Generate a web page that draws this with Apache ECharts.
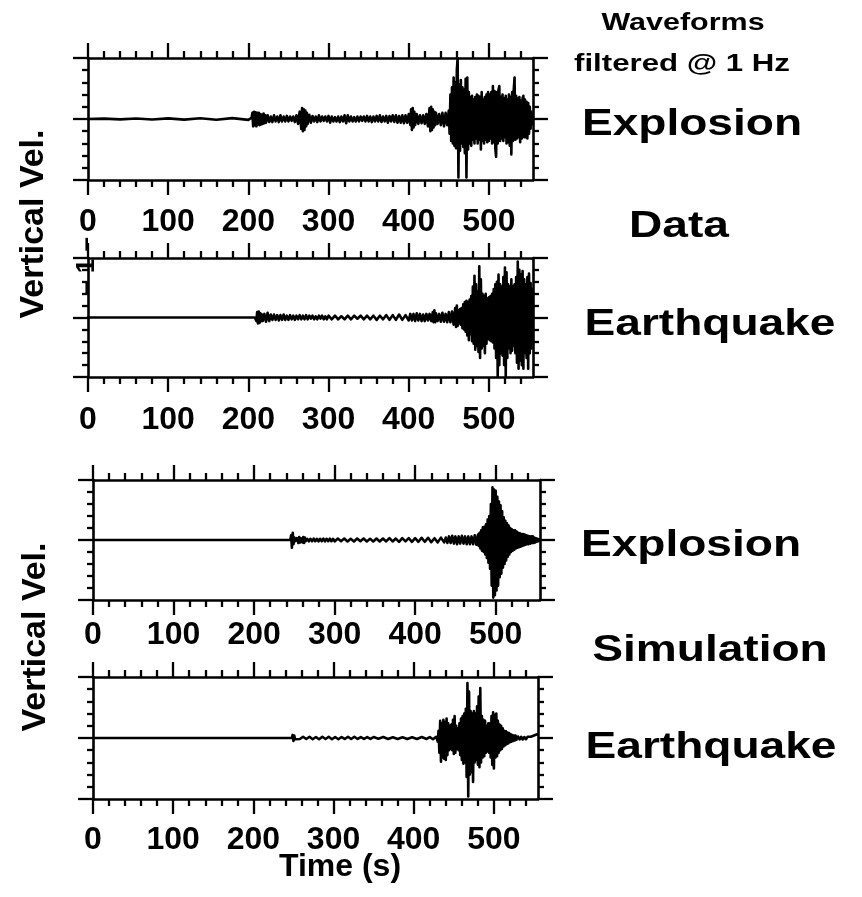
<!DOCTYPE html>
<html><head><meta charset="utf-8">
<script src="https://cdn.jsdelivr.net/npm/echarts@6/dist/echarts.min.js"></script>
<style>html,body{margin:0;padding:0;background:#fff}#c{width:862px;height:897px}</style>
</head><body><div id="c"></div>
<script>
// ---------- data ----------
const timeMin = 0, timeMax = 555;
const velMin = -5, velMax = 5;
const xMajorTicks = [0, 100, 200, 300, 400, 500];
const xMinorTicks = [20, 40, 60, 80, 120, 140, 160, 180, 220, 240, 260, 280, 320, 340, 360, 380, 420, 440, 460, 480, 520, 540];
const yMajorTicks = [-5, 0, 5];
const yMinorTicks = [-4, -3, -2, -1, 1, 2, 3, 4];

const explosionData = [[0,0],[20,0.03],[40,-0.03],[60,0.04],[80,-0.04],[100,0.05],[120,-0.05],[140,0.06],[160,-0.06],[180,0.07],[200,-0.07],
[204,0.1],[205,0.5],[206,-0.6],[207,0.6],[208,-0.5],[209,0.55],[210,-0.6],[211,0.5],[212,-0.45],[213,0.5],[214,-0.5],[215,0.4],[216,-0.45],[217,0.35],[218,-0.4],[219,0.45],[220,-0.35],[221,0.3],[222,-0.3],[224,0.3],[226,-0.25],[228,0.2],[230,-0.25],[232,0.3],[234,-0.2],[236,0.2],[238,-0.25],[240,0.3],[242,-0.2],[244,0.2],[246,-0.2],[248,0.25],[250,-0.2],[252,0.2],[254,-0.15],[256,0.2],[258,-0.25],[260,0.3],[262,-0.4],[264,0.6],[266,-0.8],[267,0.9],[268,-1.0],[269,0.8],[270,-0.9],[271,0.7],[272,-0.6],[273,0.5],[274,-0.4],[276,0.35],[278,-0.3],[280,0.25],[282,-0.2],[284,0.2],[286,-0.25],[288,0.3],[290,-0.2],[292,0.2],[294,-0.15],[296,0.2],[298,-0.2],[300,0.25],[302,-0.3],[304,0.2],[306,-0.2],[308,0.15],[310,-0.2],[312,0.2],[314,-0.25],[316,0.2],[318,-0.2],[320,0.3],[322,-0.35],[324,0.3],[326,-0.2],[328,0.2],[330,-0.2],[332,0.15],[334,-0.2],[336,0.2],[338,-0.2],[340,0.2],[342,-0.15],[344,0.2],[346,-0.2],[348,0.25],[350,-0.2],[352,0.2],[354,-0.25],[356,0.2],[358,-0.2],[360,0.25],[362,-0.2],[364,0.3],[366,-0.25],[368,0.2],[370,-0.2],[372,0.25],[374,-0.3],[376,0.25],[378,-0.2],[380,0.3],[382,-0.25],[384,0.3],[386,-0.3],[388,0.25],[390,-0.3],[392,0.3],[394,-0.35],[396,0.3],[398,-0.3],[400,0.4],[402,-0.5],[403,0.8],[404,-0.9],[405,0.9],[406,-0.7],[407,0.6],[408,-0.5],[410,0.4],[412,-0.4],[414,0.3],[416,-0.35],[418,0.3],[420,-0.4],[422,0.4],[424,-0.6],[426,0.9],[427,-1.0],[428,1.0],[429,-0.9],[430,0.8],[431,-0.7],[432,0.6],[433,-0.5],[434,0.5],[436,-0.4],[438,0.4],[440,-0.5],[442,0.5],[444,-0.6],[446,0.5],[448,-0.5],
[450,0.7],[451,-1.2],[452,2.0],[453,-1.8],[454,2.6],[455,-2.0],[456,3.4],[457,-2.2],[458,3.0],[459,-2.4],[460,4.0],[461,5.0],[462,-4.8],[463,2.8],[464,-2.6],[465,3.2],[466,-2.0],[467,2.6],[468,-2.3],[469,2.4],[470,-2.8],[471,3.3],[472,-4.8],[473,3.4],[474,-2.5],[475,2.2],[476,-2.0],[477,1.8],[478,-2.2],[479,1.9],[480,-1.7],[481,1.6],[482,-2.0],[483,1.8],[484,-1.6],[485,2.0],[486,-2.0],[487,1.9],[488,-1.7],[489,1.8],[490,-2.5],[491,2.2],[492,-1.8],[493,1.6],[494,-2.0],[495,1.8],[496,-1.7],[497,2.0],[498,-1.9],[499,2.2],[500,-1.8],[501,2.0],[502,-1.6],[503,2.2],[504,-2.0],[505,2.7],[506,-1.9],[507,2.3],[508,-2.4],[509,-3.1],[510,2.2],[511,-2.0],[512,2.4],[513,2.7],[514,-1.8],[515,1.8],[516,-1.6],[517,2.0],[518,-1.8],[519,1.7],[520,-1.5],[521,1.9],[522,-2.0],[523,1.6],[524,-1.9],[525,2.0],[526,-2.2],[527,1.8],[528,-2.9],[529,2.2],[530,-1.8],[531,2.4],[532,3.4],[533,-1.7],[534,1.9],[535,-1.6],[536,1.7],[537,-1.5],[538,1.8],[539,-1.9],[540,1.5],[541,-1.6],[542,1.7],[543,1.9],[544,-1.5],[545,1.6],[546,-1.5],[547,1.4],[548,-1.6],[549,1.3],[550,-1.2],[551,1.0],[552,-0.8],[553,0.6],[554,-0.4]];

const earthquakeData = [[0,0],[100,0],[208,0],[209,0.15],[210,-0.3],[211,0.45],[212,-0.5],[213,0.5],[214,-0.45],[215,0.35],[216,-0.3],[217,0.25],[218,-0.3],[220,0.3],[222,-0.35],[224,0.4],[226,-0.3],[228,0.25],[230,-0.2],[232,0.25],[234,-0.2],[236,0.2],[238,-0.25],[240,0.2],[242,-0.2],[244,0.25],[246,-0.2],[248,0.15],[250,-0.2],[252,0.2],[254,-0.15],[256,0.15],[258,-0.2],[260,0.15],[262,-0.15],[264,0.2],[266,-0.15],[268,0.15],[270,-0.15],[272,0.2],[274,-0.15],[276,0.15],[278,-0.1],[280,0.15],[282,-0.15],[284,0.1],[286,-0.15],[288,0.15],[290,-0.1],[292,0.15],[294,-0.15],[296,0.1],[298,-0.15],[300,0.15],[304,-0.15],[308,0.15],[312,-0.15],[316,0.1],[320,-0.15],[324,0.15],[328,-0.15],[332,0.15],[336,-0.1],[340,0.15],[344,-0.15],[348,0.15],[352,-0.15],[356,0.15],[360,-0.2],[364,0.15],[368,-0.15],[372,0.2],[376,-0.2],[380,0.2],[384,-0.2],[388,0.25],[392,-0.2],[396,0.2],[400,-0.25],[402,0.3],[404,-0.25],[406,0.3],[408,-0.3],[410,0.35],[412,-0.25],[414,0.3],[416,-0.3],[418,0.25],[420,-0.3],[422,0.3],[424,-0.25],[426,0.3],[428,-0.3],[430,0.45],[431,-0.4],[432,0.6],[433,-0.4],[434,0.35],[436,-0.3],[438,0.3],[440,-0.35],[442,0.4],[444,-0.35],[446,0.3],[448,-0.4],[450,0.45],[452,-0.4],[454,0.5],[456,-0.6],[458,0.8],[459,-0.8],[460,1.0],[461,-0.7],[462,0.6],[463,-0.5],[464,0.7],[465,-0.6],[466,0.8],[467,-0.9],[468,1.1],[469,-1.0],[470,1.3],[471,-1.2],[472,1.4],[473,-1.5],[474,1.3],[475,-1.9],[476,1.5],[477,-1.4],[478,1.8],[479,-2.0],[480,2.6],[481,-2.2],[482,3.5],[483,-2.7],[484,2.8],[485,-2.4],[486,2.2],[487,-2.9],[488,4.3],[489,-3.4],[490,3.2],[491,-2.6],[492,2.0],[493,-2.4],[494,1.8],[495,-3.0],[496,2.0],[497,-2.2],[498,1.6],[499,-1.8],[500,1.7],[501,-1.9],[502,1.8],[503,-2.0],[504,2.0],[505,-2.1],[506,2.4],[507,-2.6],[508,2.8],[509,-3.4],[510,3.0],[511,-5.0],[512,3.6],[513,-4.0],[514,2.8],[515,-3.0],[516,2.6],[517,-3.2],[518,3.4],[519,-4.0],[520,4.2],[521,-5.0],[522,3.8],[523,-3.4],[524,2.8],[525,-2.6],[526,2.6],[527,-3.0],[528,3.2],[529,-2.8],[530,2.6],[531,-2.4],[532,2.8],[533,-3.0],[534,3.4],[535,-3.8],[536,4.7],[537,-4.3],[538,4.0],[539,-3.6],[540,3.6],[541,-4.0],[542,3.9],[543,-4.3],[544,3.2],[545,-3.0],[546,2.8],[547,-3.4],[548,3.4],[549,-4.3],[550,3.7],[551,-3.0],[552,2.9],[553,-2.6],[554,2.4]];

const explosionSimData = [[0,0],[100,0],[200,0],[245,0],[246,0.4],[247,-0.65],[248,0.6],[249,-0.35],[250,0.2],[251,-0.1],[253,0.15],[255,-0.25],[256,0.25],[257,-0.2],[258,0.15],[260,-0.2],[261,0.25],[262,-0.25],[263,0.2],[264,-0.1],[266,0.1],[268,-0.12],[270,0.1],[272,-0.1],[274,0.12],[276,-0.1],[278,0.1],[280,-0.12],[282,0.1],[284,-0.1],[286,0.12],[288,-0.12],[290,0.1],[292,-0.1],[294,0.12],[296,-0.1],[298,0.1],[300,-0.12],[304,0.12],[308,-0.1],[312,0.12],[316,-0.12],[320,0.1],[324,-0.12],[328,0.12],[332,-0.1],[336,0.12],[340,-0.12],[344,0.1],[348,-0.12],[352,0.12],[356,-0.12],[360,0.12],[364,-0.12],[368,0.15],[372,-0.12],[376,0.12],[380,-0.15],[384,0.15],[388,-0.12],[392,0.15],[396,-0.15],[400,0.15],[404,-0.15],[408,0.18],[412,-0.15],[416,0.18],[420,-0.18],[424,0.15],[428,-0.2],[432,0.2],[436,-0.2],[438,0.2],[440,-0.25],[442,0.3],[444,-0.25],[446,0.35],[448,-0.3],[450,0.3],[452,-0.35],[454,0.3],[456,-0.3],[458,0.35],[460,-0.3],[462,0.3],[464,-0.35],[466,0.3],[468,-0.35],[470,0.3],[472,-0.35],[474,0.4],[476,-0.4],[478,0.45],[479,-0.5],[480,0.6],[481,-0.7],[482,0.8],[483,-0.9],[484,1.05],[485,-1.0],[486,1.1],[487,-1.2],[488,1.3],[489,-1.5],[490,1.7],[491,-1.9],[492,2.0],[493,-2.4],[494,3.0],[495,-3.8],[496,4.4],[497,-4.8],[498,4.2],[499,-4.6],[500,4.1],[501,-4.2],[502,3.6],[503,-3.8],[504,3.2],[505,-3.1],[506,2.9],[507,-2.8],[508,2.4],[509,-2.3],[510,1.9],[511,-2.0],[512,1.6],[513,-1.7],[514,1.4],[515,-1.4],[516,1.2],[517,-1.2],[518,1.0],[519,-1.0],[520,0.9],[521,-0.9],[522,0.8],[523,-0.8],[524,0.8],[525,-0.7],[526,0.7],[527,-0.65],[528,0.6],[529,-0.6],[530,0.55],[531,-0.55],[532,0.5],[533,-0.5],[534,0.5],[535,-0.45],[536,0.45],[537,-0.4],[538,0.4],[539,-0.35],[540,0.35],[541,-0.35],[542,0.3],[543,-0.3],[544,0.3],[545,-0.25],[546,0.3],[547,-0.25],[548,0.2],[549,-0.2],[550,0.15],[551,-0.15],[552,0.1],[553,-0.1],[554,0.05]];

const earthquakeSimData = [[0,0],[100,0],[200,0],[248,0],[249,0.25],[250,-0.25],[251,0.2],[252,-0.1],[254,0.05],[258,-0.08],[262,0.1],[266,-0.08],[270,0.1],[274,-0.1],[278,0.08],[282,-0.1],[286,0.1],[290,-0.08],[294,0.1],[298,-0.1],[302,0.08],[306,-0.1],[310,0.08],[314,-0.08],[318,0.1],[322,-0.08],[326,0.1],[330,-0.08],[334,0.08],[338,-0.08],[342,0.08],[346,-0.08],[350,0.08],[356,-0.06],[362,0.08],[368,-0.08],[374,0.06],[380,-0.08],[386,0.06],[392,-0.08],[398,0.06],[404,-0.08],[410,0.08],[416,-0.08],[420,0.08],[424,-0.1],[428,0.1],[430,-0.3],[431,0.6],[432,-1.2],[433,1.4],[434,-1.95],[435,1.2],[436,-1.6],[437,1.5],[438,-1.7],[439,1.3],[440,-1.8],[441,1.6],[442,-1.4],[443,1.2],[444,-1.0],[445,1.0],[446,-0.9],[447,1.1],[448,-1.0],[449,1.5],[450,-1.3],[451,1.8],[452,-1.2],[453,1.0],[454,-0.9],[455,0.8],[456,-1.0],[457,1.2],[458,-1.4],[459,1.6],[460,-1.8],[461,1.8],[462,-2.1],[463,2.0],[464,-2.0],[465,2.4],[466,-3.2],[467,4.5],[468,-4.8],[469,3.8],[470,-3.0],[471,2.2],[472,-2.8],[473,2.0],[474,-3.6],[475,2.2],[476,-2.0],[477,2.0],[478,-1.8],[479,2.6],[480,-2.2],[481,3.4],[482,-2.4],[483,4.1],[484,-2.0],[485,1.8],[486,-1.6],[487,1.5],[488,-1.5],[489,1.4],[490,-1.2],[491,1.0],[492,-1.1],[493,1.2],[494,-1.2],[495,1.2],[496,-1.6],[497,1.8],[498,-2.2],[499,2.1],[500,-2.5],[501,1.9],[502,-1.6],[503,2.0],[504,-1.5],[505,1.4],[506,-1.2],[507,1.1],[508,-1.0],[509,1.0],[510,-0.9],[511,0.8],[512,-0.7],[513,0.6],[514,-0.6],[515,0.55],[516,-0.5],[517,0.45],[518,-0.45],[519,0.4],[520,-0.35],[521,0.3],[522,-0.3],[523,0.25],[524,-0.25],[525,0.2],[526,-0.2],[527,0.2],[528,-0.15],[530,0.12],[532,-0.12],[534,0.1],[536,-0.12],[538,0.08],[540,-0.1],[542,0.1],[544,0.05],[546,0.1],[548,0.15],[550,0.2],[552,0.25],[554,0.3]];

const panelSeries = [explosionData, earthquakeData, explosionSimData, earthquakeSimData];

// ---------- layout / style ----------
const FONT = '"Liberation Sans", Arial, Helvetica, sans-serif';
const gridBoxes = [
  {left: 88, top: 58, width: 445, height: 122},
  {left: 88, top: 258, width: 445, height: 119},
  {left: 93, top: 480, width: 447, height: 120},
  {left: 93, top: 677, width: 445, height: 122}
];
const labelMargins = [26, 27, 19, 25];
const AX = {color: '#000', width: 2.6};
const TK = {color: '#000', width: 2.3};

const xAxes = [], yAxes = [], series = [];
gridBoxes.forEach(function (g, gi) {
  const xb = {gridIndex: gi, type: 'value', min: timeMin, max: timeMax, splitLine: {show: false}};
  const yb = {gridIndex: gi, type: 'value', min: velMin, max: velMax, splitLine: {show: false}};
  const first = xAxes.length;
  xAxes.push(Object.assign({}, xb, {position: 'bottom',
    axisLine: {show: true, onZero: false, lineStyle: AX},
    axisTick: {show: true, customValues: xMajorTicks, length: 15, lineStyle: TK},
    axisLabel: {show: true, customValues: xMajorTicks, margin: labelMargins[gi], color: '#000', fontSize: 32, fontWeight: 'bold', fontFamily: FONT}}));
  xAxes.push(Object.assign({}, xb, {position: 'bottom',
    axisLine: {show: false, onZero: false},
    axisTick: {show: true, customValues: xMinorTicks, length: 7, lineStyle: TK},
    axisLabel: {show: false}}));
  xAxes.push(Object.assign({}, xb, {position: 'top',
    axisLine: {show: true, onZero: false, lineStyle: AX},
    axisTick: {show: true, customValues: xMajorTicks, length: 15, lineStyle: TK},
    axisLabel: {show: false}}));
  xAxes.push(Object.assign({}, xb, {position: 'top',
    axisLine: {show: false, onZero: false},
    axisTick: {show: true, customValues: xMinorTicks, length: 7, lineStyle: TK},
    axisLabel: {show: false}}));
  const yfirst = yAxes.length;
  ['left', 'right'].forEach(function (pos) {
    yAxes.push(Object.assign({}, yb, {position: pos,
      axisLine: {show: true, onZero: false, lineStyle: AX},
      axisTick: {show: true, customValues: yMajorTicks, length: 15, lineStyle: TK},
      axisLabel: {show: false}}));
    yAxes.push(Object.assign({}, yb, {position: pos,
      axisLine: {show: false, onZero: false},
      axisTick: {show: true, customValues: yMinorTicks, length: 6, lineStyle: TK},
      axisLabel: {show: false}}));
  });
  series.push({type: 'line', xAxisIndex: first, yAxisIndex: yfirst, data: panelSeries[gi],
    showSymbol: false, symbol: 'none', sampling: null, clip: true,
    lineStyle: {color: '#000', width: 2.6, join: 'round', cap: 'round'}, z: 3});
});

function txt(text, x, y, size, sx, rot) {
  return {type: 'text', x: x, y: y, scaleX: sx || 1, rotation: rot || 0, z: 10,
    style: {text: text, fill: '#000', fontSize: size, fontWeight: 'bold', fontFamily: FONT,
      textAlign: 'center', textVerticalAlign: 'middle'}};
}
const graphics = [
  txt('Waveforms', 683, 23, 24, 1.27),
  txt('filtered @ 1 Hz', 682, 64, 24, 1.3),
  txt('Explosion', 692, 125, 36, 1.28),
  txt('Data', 679, 227, 36, 1.28),
  txt('Earthquake', 710, 325, 36, 1.28),
  txt('Explosion', 691, 546, 36, 1.28),
  txt('Simulation', 710, 651, 36, 1.28),
  txt('Earthquake', 711, 748, 36, 1.28),
  txt('Vertical Vel.', 34, 224, 34, 1, Math.PI / 2),
  txt('Vertical Vel.', 36, 637, 34, 1, Math.PI / 2),
  txt('– 1 –', 87, 266, 26, 1, Math.PI / 2),
  txt('Time (s)', 340, 867, 32, 1)
];

const chart = echarts.init(document.getElementById('c'), null, {renderer: 'canvas'});
chart.setOption({
  animation: false,
  backgroundColor: '#fff',
  grid: gridBoxes.map(function (g) { return Object.assign({containLabel: false}, g); }),
  xAxis: xAxes,
  yAxis: yAxes,
  series: series,
  graphic: graphics
});
</script>
</body></html>
